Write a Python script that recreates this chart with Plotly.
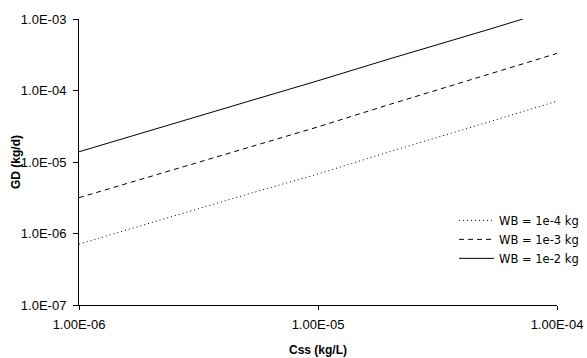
import plotly.graph_objects as go

css = [1e-6, 2e-6, 5e-6, 1e-5, 2e-5, 5e-5, 1e-4]
css_solid = [1e-6, 2e-6, 5e-6, 1e-5, 2e-5, 5e-5, 7.2e-5]
gd_wb_1e4 = [7.1e-7, 1.42e-6, 3.5e-6, 6.8e-6, 1.4e-5, 3.5e-5, 7.1e-5]
gd_wb_1e3 = [3.17e-6, 6.3e-6, 1.58e-5, 3.1e-5, 6.4e-5, 1.62e-4, 3.3e-4]
gd_wb_1e2 = [1.39e-5, 2.8e-5, 6.9e-5, 1.37e-4, 2.78e-4, 6.9e-4, 1.0e-3]

x_ticks = [1e-6, 1e-5, 1e-4]
x_ticklabels = ["1.00E-06", "1.00E-05", "1.00E-04"]
y_ticks = [1e-7, 1e-6, 1e-5, 1e-4, 1e-3]
y_ticklabels = ["1.0E-07", "1.0E-06", "1.0E-05", "1.0E-04", "1.0E-03"]

W, H = 587, 358
ML, MR, MT, MB = 79, 30, 19, 53
PW, PH = W - ML - MR, H - MT - MB

fig = go.Figure()
fig.add_trace(go.Scatter(x=css, y=gd_wb_1e4, mode="lines", name="WB = 1e-4 kg",
                         line=dict(color="black", width=1, dash="1px,3px")))
fig.add_trace(go.Scatter(x=css, y=gd_wb_1e3, mode="lines", name="WB = 1e-3 kg",
                         line=dict(color="black", width=1, dash="5px,4px")))
fig.add_trace(go.Scatter(x=css_solid, y=gd_wb_1e2, mode="lines", name="WB = 1e-2 kg",
                         line=dict(color="black", width=1)))

font = dict(family="Liberation Sans, Arial, sans-serif", size=13, color="black")

fig.update_layout(
    width=W, height=H,
    margin=dict(l=ML, r=MR, t=MT, b=MB, autoexpand=False),
    paper_bgcolor="white", plot_bgcolor="white",
    font=font,
    showlegend=True,
    legend=dict(xref="container", yref="container", x=0.995, y=0.425,
                xanchor="right", yanchor="top",
                bgcolor="rgba(0,0,0,0)",
                font=dict(family="DejaVu Sans, sans-serif", size=11.5),
                itemwidth=35, tracegroupgap=0),
    annotations=[
        dict(text="<b>GD (kg/d)</b>", textangle=-90, showarrow=False,
             xref="paper", yref="paper", x=(16 - ML) / PW, y=0.5,
             xanchor="center", yanchor="middle", font=dict(size=12)),
        dict(text="<b>Css (kg/L)</b>", showarrow=False,
             xref="paper", yref="paper", x=0.5, y=-(350 - (MT + PH)) / PH,
             xanchor="center", yanchor="middle", font=dict(size=12)),
    ],
)
fig.update_xaxes(
    type="log", range=[-6, -4], tickvals=x_ticks, ticktext=x_ticklabels,
    showline=True, linecolor="black", linewidth=1, ticks="outside", ticklen=4,
    tickcolor="black", showgrid=False, zeroline=False, tickfont=dict(size=13),
    automargin=False, ticklabelstandoff=3,
)
fig.update_yaxes(
    type="log", range=[-7, -3], tickvals=y_ticks, ticktext=y_ticklabels,
    showline=True, linecolor="black", linewidth=1, ticks="outside", ticklen=5,
    tickcolor="black", showgrid=False, zeroline=False, tickfont=dict(size=13),
    automargin=False, ticklabelstandoff=4,
)

fig.write_html("out.html", config={"displayModeBar": False},
               post_script="document.body.style.margin='0';document.body.style.overflow='hidden';")
